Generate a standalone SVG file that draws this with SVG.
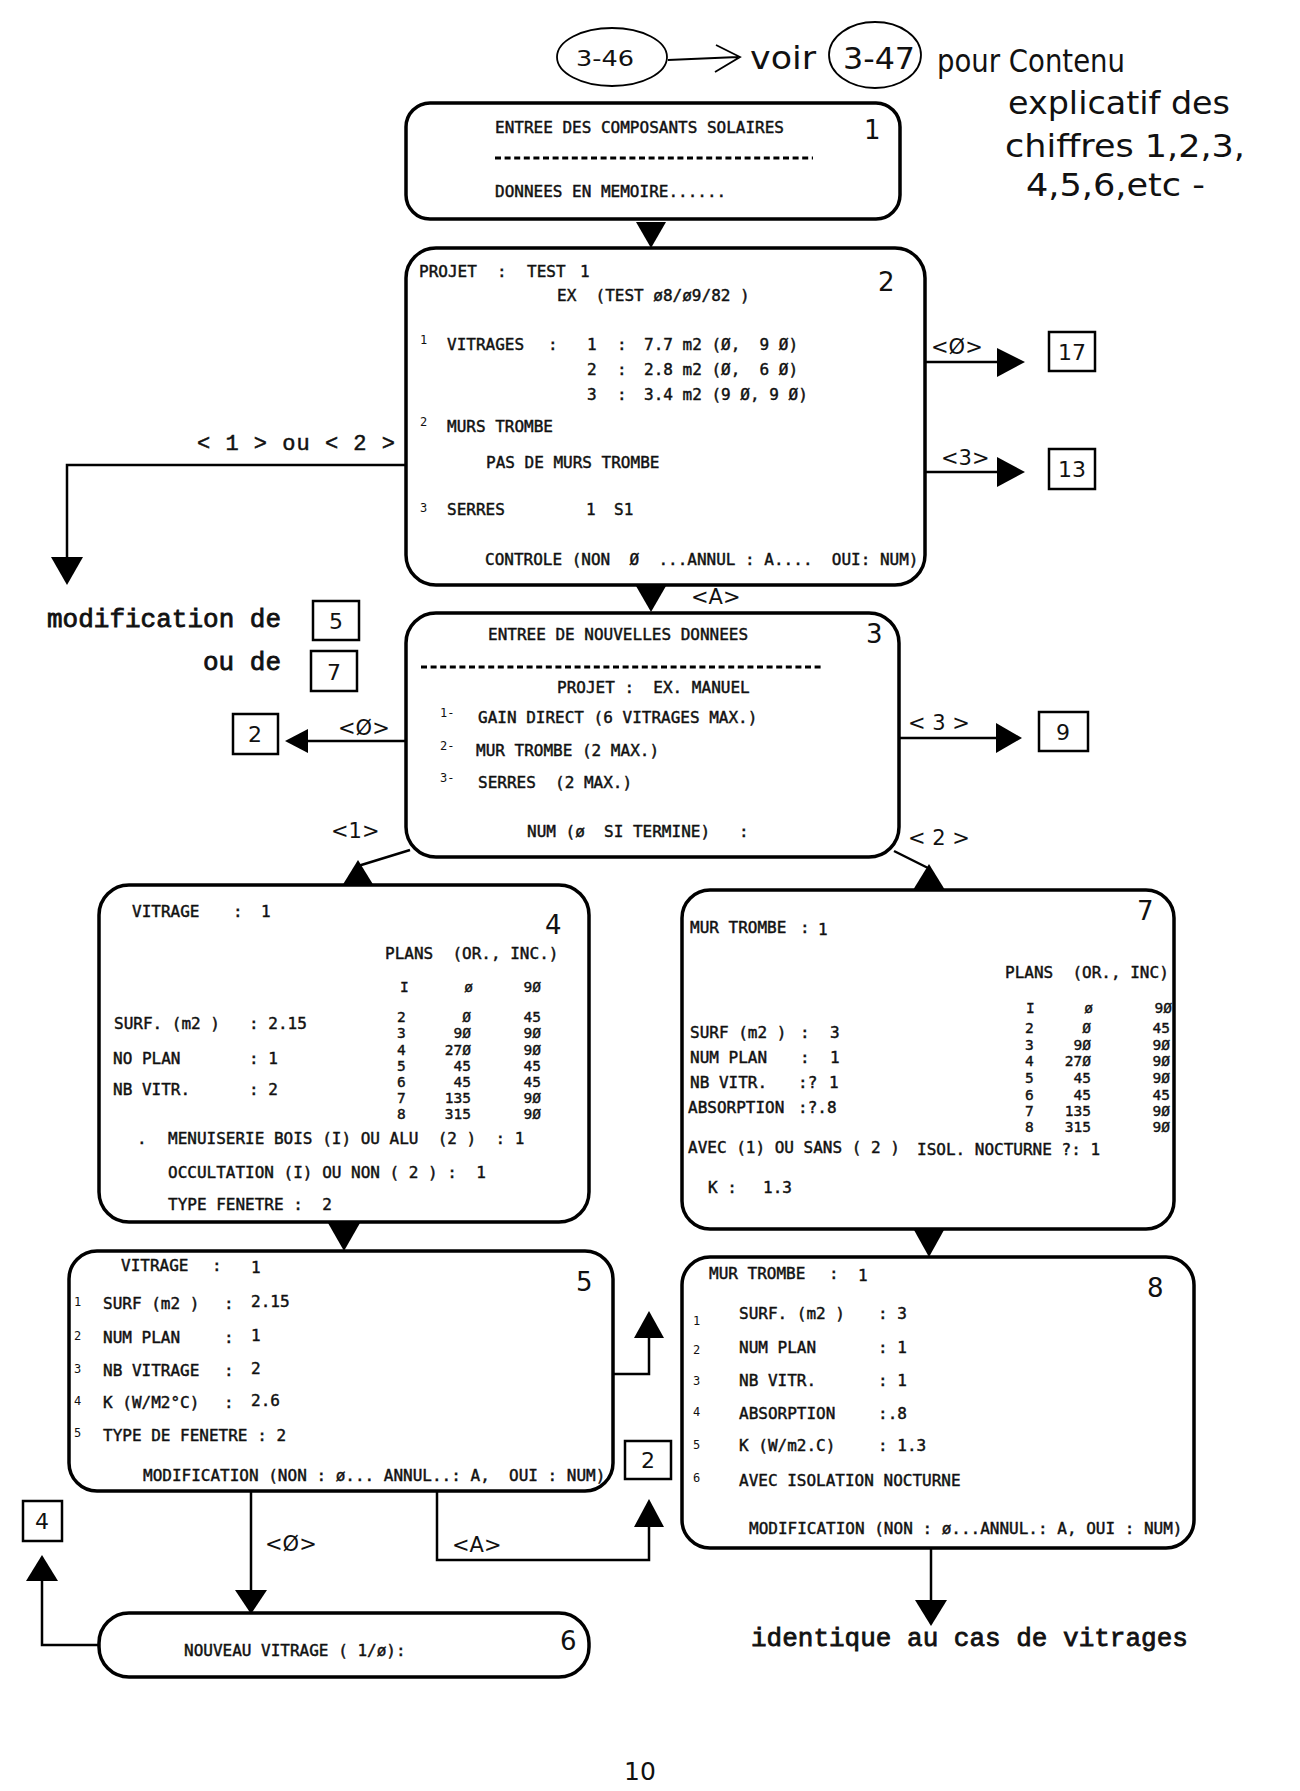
<svg xmlns="http://www.w3.org/2000/svg" width="1300" height="1791" viewBox="0 0 1300 1791">
<style>
.box{fill:#fff;stroke:#000;stroke-width:3.5}
.sbox{fill:#fff;stroke:#000;stroke-width:2.5}
.ln{fill:none;stroke:#000;stroke-width:2.5}
.hl{fill:none;stroke:#000;stroke-width:1.8}
.ah{fill:#000}
.dash{stroke:#000;stroke-width:3;stroke-dasharray:6 3.6}
.t{font-family:'DejaVu Sans Mono','Liberation Mono',monospace;font-size:16px;fill:#111;stroke:#111;stroke-width:0.45;white-space:pre}
.tb{font-family:'DejaVu Sans Mono','Liberation Mono',monospace;font-size:14.5px;fill:#111;stroke:#111;stroke-width:0.4;white-space:pre}
.sm{font-family:'DejaVu Sans Mono','Liberation Mono',monospace;font-size:12px;fill:#111}
.big{font-family:'DejaVu Sans','Liberation Sans',sans-serif;font-size:26px;fill:#111}
.lbl{font-family:'DejaVu Sans','Liberation Sans',sans-serif;font-size:21px;fill:#111;white-space:pre}
.num{font-family:'DejaVu Sans','Liberation Sans',sans-serif;font-size:22px;fill:#111;text-anchor:middle}
.cour{font-family:'Liberation Mono','Courier New',monospace;font-size:26px;fill:#111;stroke:#111;stroke-width:0.8;white-space:pre}
.hand{font-family:'DejaVu Sans','Liberation Sans',sans-serif;font-size:32px;fill:#111}
.e{text-anchor:end}
</style>

<!-- handwritten header -->
<g id="annotation">
  <ellipse cx="612" cy="57" rx="55" ry="29" class="hl"/>
  <text x="576" y="66" class="hand" style="font-size:22px" textLength="58" lengthAdjust="spacingAndGlyphs">3-46</text>
  <path d="M668,60 L738,57 M716,45 L740,57 L715,72" class="hl"/>
  <text x="750" y="69" class="hand" textLength="66" lengthAdjust="spacingAndGlyphs">voir</text>
  <ellipse cx="875" cy="55" rx="46" ry="33" class="hl"/>
  <text x="843" y="69" class="hand" style="font-size:30px" textLength="72" lengthAdjust="spacingAndGlyphs">3-47</text>
  <text x="937" y="72" class="hand" textLength="188" lengthAdjust="spacingAndGlyphs">pour Contenu</text>
  <text x="1008" y="114" class="hand" textLength="222" lengthAdjust="spacingAndGlyphs">explicatif des</text>
  <text x="1005" y="157" class="hand" textLength="240" lengthAdjust="spacingAndGlyphs">chiffres 1,2,3,</text>
  <text x="1026" y="196" class="hand" textLength="179" lengthAdjust="spacingAndGlyphs">4,5,6,etc -</text>
  <text x="624" y="1780" class="hand" style="font-size:25px">10</text>
</g>

<!-- connectors -->
<g id="connectors">
  <!-- 1 -> 2 -->
  <polygon class="ah" points="636,222 666,222 651,248"/>
  <!-- 2 -> 3 -->
  <polygon class="ah" points="636,586 666,586 651,612"/>
  <text x="691" y="604" class="lbl">&lt;A&gt;</text>
  <!-- 2 -> 17 -->
  <path class="ln" d="M925,362 H1000"/>
  <polygon class="ah" points="997,348 1025,362 997,377"/>
  <text x="931" y="354" class="lbl">&lt;Ø&gt;</text>
  <rect class="sbox" x="1049" y="332" width="46" height="39"/>
  <text x="1072" y="360" class="num">17</text>
  <!-- 2 -> 13 -->
  <path class="ln" d="M925,472 H1000"/>
  <polygon class="ah" points="997,457 1025,472 997,487"/>
  <text x="941" y="465" class="lbl">&lt;3&gt;</text>
  <rect class="sbox" x="1049" y="449" width="46" height="40"/>
  <text x="1072" y="477" class="num">13</text>
  <!-- 2 -> modification -->
  <path class="ln" d="M406,465 H67 V560"/>
  <polygon class="ah" points="51,557 83,557 67,585"/>
  <text x="197" y="450" class="cour" style="font-size:22px;stroke-width:0.5" textLength="198" lengthAdjust="spacing">&lt; 1 &gt; ou &lt; 2 &gt;</text>
  <text x="47" y="627" class="cour">modification de</text>
  <text x="203" y="670" class="cour">ou de</text>
  <rect class="sbox" x="313" y="601" width="46" height="39"/>
  <text x="336" y="629" class="num">5</text>
  <rect class="sbox" x="311" y="651" width="46" height="40"/>
  <text x="334" y="680" class="num">7</text>
  <!-- 3 -> 2 -->
  <path class="ln" d="M406,741 H305"/>
  <polygon class="ah" points="308,729 308,753 285,741"/>
  <text x="338" y="735" class="lbl">&lt;Ø&gt;</text>
  <rect class="sbox" x="233" y="714" width="45" height="40"/>
  <text x="255" y="742" class="num">2</text>
  <!-- 3 -> 9 -->
  <path class="ln" d="M899,738 H1000"/>
  <polygon class="ah" points="996,723 1022,738 996,753"/>
  <text x="908" y="730" class="lbl">&lt; 3 &gt;</text>
  <rect class="sbox" x="1039" y="712" width="49" height="39"/>
  <text x="1063" y="740" class="num">9</text>
  <!-- 3 -> 4 -->
  <path class="ln" d="M410,850 L358,866"/>
  <polygon class="ah" points="342,886 374,886 358,860"/>
  <text x="331" y="838" class="lbl">&lt;1&gt;</text>
  <!-- 3 -> 7 -->
  <path class="ln" d="M894,851 L928,868"/>
  <polygon class="ah" points="913,890 945,890 929,864"/>
  <text x="908" y="845" class="lbl">&lt; 2 &gt;</text>
  <!-- 4 -> 5 -->
  <polygon class="ah" points="328,1223 360,1223 344,1251"/>
  <!-- 7 -> 8 -->
  <polygon class="ah" points="914,1230 944,1230 929,1257"/>
  <!-- 5 right -> up -->
  <path class="ln" d="M613,1374 H649 V1337"/>
  <polygon class="ah" points="634,1338 664,1338 649,1311"/>
  <rect class="sbox" x="625" y="1441" width="46" height="38"/>
  <text x="648" y="1468" class="num">2</text>
  <!-- 5 -> 2 via <A> -->
  <path class="ln" d="M437,1491 V1560 H649 V1525"/>
  <polygon class="ah" points="634,1527 664,1527 649,1499"/>
  <text x="452" y="1552" class="lbl">&lt;A&gt;</text>
  <!-- 5 -> 6 -->
  <path class="ln" d="M251,1491 V1592"/>
  <polygon class="ah" points="235,1590 267,1590 251,1614"/>
  <text x="265" y="1551" class="lbl">&lt;Ø&gt;</text>
  <!-- 6 -> 4 -->
  <path class="ln" d="M99,1645 H42 V1578"/>
  <polygon class="ah" points="26,1581 58,1581 42,1555"/>
  <rect class="sbox" x="23" y="1501" width="39" height="40"/>
  <text x="42" y="1529" class="num">4</text>
  <!-- 8 -> identique -->
  <path class="ln" d="M931,1548 V1602"/>
  <polygon class="ah" points="915,1600 947,1600 931,1626"/>
  <text x="751" y="1646" class="cour">identique au cas de vitrages</text>
</g>

<!-- node 1 -->
<g id="node1">
  <rect class="box" x="406" y="103" width="494" height="116" rx="24"/>
  <text x="495" y="133" class="t">ENTREE DES COMPOSANTS SOLAIRES</text>
  <line class="dash" x1="495" y1="158" x2="813" y2="158"/>
  <text x="495" y="197" class="t">DONNEES EN MEMOIRE......</text>
  <text x="864" y="139" class="big">1</text>
</g>

<!-- node 2 -->
<g id="node2">
  <rect class="box" x="406" y="248" width="519" height="337" rx="30"/>
  <text x="419" y="277" class="t">PROJET</text>
  <text x="497" y="277" class="t">:</text>
  <text x="527" y="277" class="t">TEST</text>
  <text x="580" y="277" class="t">1</text>
  <text x="557" y="301" class="t">EX  (TEST ø8/ø9/82 )</text>
  <text x="878" y="291" class="big">2</text>
  <text x="420" y="344" class="sm">1</text>
  <text x="447" y="350" class="t">VITRAGES</text>
  <text x="548" y="350" class="t">:</text>
  <text x="587" y="350" class="t">1</text>
  <text x="617" y="350" class="t">:</text>
  <text x="644" y="350" class="t">7.7 m2 (Ø,  9 Ø)</text>
  <text x="587" y="375" class="t">2</text>
  <text x="617" y="375" class="t">:</text>
  <text x="644" y="375" class="t">2.8 m2 (Ø,  6 Ø)</text>
  <text x="587" y="400" class="t">3</text>
  <text x="617" y="400" class="t">:</text>
  <text x="644" y="400" class="t">3.4 m2 (9 Ø, 9 Ø)</text>
  <text x="420" y="426" class="sm">2</text>
  <text x="447" y="432" class="t">MURS TROMBE</text>
  <text x="486" y="468" class="t">PAS DE MURS TROMBE</text>
  <text x="420" y="512" class="sm">3</text>
  <text x="447" y="515" class="t">SERRES</text>
  <text x="586" y="515" class="t">1</text>
  <text x="614" y="515" class="t">S1</text>
  <text x="485" y="565" class="t">CONTROLE (NON  Ø  ...ANNUL : A....  OUI: NUM)</text>
</g>

<!-- node 3 -->
<g id="node3">
  <rect class="box" x="406" y="613" width="493" height="244" rx="30"/>
  <text x="488" y="640" class="t">ENTREE DE NOUVELLES DONNEES</text>
  <text x="866" y="643" class="big">3</text>
  <line class="dash" x1="421" y1="667" x2="823" y2="667"/>
  <text x="557" y="693" class="t">PROJET :  EX. MANUEL</text>
  <text x="440" y="717" class="sm">1-</text>
  <text x="478" y="723" class="t">GAIN DIRECT (6 VITRAGES MAX.)</text>
  <text x="440" y="750" class="sm">2-</text>
  <text x="476" y="756" class="t">MUR TROMBE (2 MAX.)</text>
  <text x="440" y="782" class="sm">3-</text>
  <text x="478" y="788" class="t">SERRES  (2 MAX.)</text>
  <text x="527" y="837" class="t">NUM (ø  SI TERMINE)   :</text>
</g>

<!-- node 4 -->
<g id="node4">
  <rect class="box" x="99" y="885" width="490" height="337" rx="30"/>
  <text x="132" y="917" class="t">VITRAGE</text>
  <text x="233" y="917" class="t">:</text>
  <text x="261" y="917" class="t">1</text>
  <text x="545" y="934" class="big">4</text>
  <text x="385" y="959" class="t">PLANS  (OR., INC.)</text>
  <text x="400" y="992" class="tb">I</text>
  <text x="473" y="992" class="tb e">ø</text>
  <text x="541" y="992" class="tb e">9Ø</text>
  <text x="397" y="1022" class="tb">2</text><text x="471" y="1022" class="tb e">Ø</text><text x="541" y="1022" class="tb e">45</text>
  <text x="397" y="1038" class="tb">3</text><text x="471" y="1038" class="tb e">9Ø</text><text x="541" y="1038" class="tb e">9Ø</text>
  <text x="397" y="1055" class="tb">4</text><text x="471" y="1055" class="tb e">27Ø</text><text x="541" y="1055" class="tb e">9Ø</text>
  <text x="397" y="1071" class="tb">5</text><text x="471" y="1071" class="tb e">45</text><text x="541" y="1071" class="tb e">45</text>
  <text x="397" y="1087" class="tb">6</text><text x="471" y="1087" class="tb e">45</text><text x="541" y="1087" class="tb e">45</text>
  <text x="397" y="1103" class="tb">7</text><text x="471" y="1103" class="tb e">135</text><text x="541" y="1103" class="tb e">9Ø</text>
  <text x="397" y="1119" class="tb">8</text><text x="471" y="1119" class="tb e">315</text><text x="541" y="1119" class="tb e">9Ø</text>
  <text x="114" y="1029" class="t">SURF. (m2 )</text>
  <text x="249" y="1029" class="t">: 2.15</text>
  <text x="113" y="1064" class="t">NO PLAN</text>
  <text x="249" y="1064" class="t">: 1</text>
  <text x="113" y="1095" class="t">NB VITR.</text>
  <text x="249" y="1095" class="t">: 2</text>
  <text x="137" y="1144" class="t">.</text>
  <text x="168" y="1144" class="t">MENUISERIE BOIS (I) OU ALU  (2 )  : 1</text>
  <text x="168" y="1178" class="t">OCCULTATION (I) OU NON ( 2 ) :  1</text>
  <text x="168" y="1210" class="t">TYPE FENETRE :  2</text>
</g>

<!-- node 7 -->
<g id="node7">
  <rect class="box" x="682" y="890" width="492" height="339" rx="28"/>
  <text x="690" y="933" class="t">MUR TROMBE</text>
  <text x="800" y="933" class="t">:</text>
  <text x="818" y="935" class="t">1</text>
  <text x="1137" y="920" class="big">7</text>
  <text x="1005" y="978" class="t">PLANS  (OR., INC)</text>
  <text x="1026" y="1013" class="tb">I</text>
  <text x="1093" y="1013" class="tb e">ø</text>
  <text x="1172" y="1013" class="tb e">9Ø</text>
  <text x="1025" y="1033" class="tb">2</text><text x="1091" y="1033" class="tb e">Ø</text><text x="1170" y="1033" class="tb e">45</text>
  <text x="1025" y="1050" class="tb">3</text><text x="1091" y="1050" class="tb e">9Ø</text><text x="1170" y="1050" class="tb e">9Ø</text>
  <text x="1025" y="1066" class="tb">4</text><text x="1091" y="1066" class="tb e">27Ø</text><text x="1170" y="1066" class="tb e">9Ø</text>
  <text x="1025" y="1083" class="tb">5</text><text x="1091" y="1083" class="tb e">45</text><text x="1170" y="1083" class="tb e">9Ø</text>
  <text x="1025" y="1100" class="tb">6</text><text x="1091" y="1100" class="tb e">45</text><text x="1170" y="1100" class="tb e">45</text>
  <text x="1025" y="1116" class="tb">7</text><text x="1091" y="1116" class="tb e">135</text><text x="1170" y="1116" class="tb e">9Ø</text>
  <text x="1025" y="1132" class="tb">8</text><text x="1091" y="1132" class="tb e">315</text><text x="1170" y="1132" class="tb e">9Ø</text>
  <text x="690" y="1038" class="t">SURF (m2 )</text>
  <text x="800" y="1038" class="t">:</text>
  <text x="830" y="1038" class="t">3</text>
  <text x="690" y="1063" class="t">NUM PLAN</text>
  <text x="800" y="1063" class="t">:</text>
  <text x="830" y="1063" class="t">1</text>
  <text x="690" y="1088" class="t">NB VITR.</text>
  <text x="798" y="1088" class="t">:?</text>
  <text x="829" y="1088" class="t">1</text>
  <text x="688" y="1113" class="t">ABSORPTION</text>
  <text x="798" y="1113" class="t">:?.8</text>
  <text x="688" y="1153" class="t">AVEC (1) OU SANS ( 2 )</text>
  <text x="917" y="1155" class="t">ISOL. NOCTURNE ?: 1</text>
  <text x="708" y="1193" class="t">K :</text>
  <text x="763" y="1193" class="t">1.3</text>
</g>

<!-- node 5 -->
<g id="node5">
  <rect class="box" x="69" y="1251" width="544" height="240" rx="28"/>
  <text x="121" y="1271" class="t">VITRAGE</text>
  <text x="212" y="1271" class="t">:</text>
  <text x="251" y="1273" class="t">1</text>
  <text x="576" y="1291" class="big">5</text>
  <text x="74" y="1306" class="sm">1</text>
  <text x="103" y="1309" class="t">SURF (m2 )</text>
  <text x="224" y="1309" class="t">:</text>
  <text x="251" y="1307" class="t">2.15</text>
  <text x="74" y="1340" class="sm">2</text>
  <text x="103" y="1343" class="t">NUM PLAN</text>
  <text x="224" y="1343" class="t">:</text>
  <text x="251" y="1341" class="t">1</text>
  <text x="74" y="1373" class="sm">3</text>
  <text x="103" y="1376" class="t">NB VITRAGE</text>
  <text x="224" y="1376" class="t">:</text>
  <text x="251" y="1374" class="t">2</text>
  <text x="74" y="1405" class="sm">4</text>
  <text x="103" y="1408" class="t">K (W/M2°C)</text>
  <text x="224" y="1408" class="t">:</text>
  <text x="251" y="1406" class="t">2.6</text>
  <text x="74" y="1437" class="sm">5</text>
  <text x="103" y="1441" class="t">TYPE DE FENETRE : 2</text>
  <text x="143" y="1481" class="t">MODIFICATION (NON : ø... ANNUL..: A,  OUI : NUM)</text>
</g>

<!-- node 8 -->
<g id="node8">
  <rect class="box" x="682" y="1257" width="512" height="291" rx="28"/>
  <text x="709" y="1279" class="t">MUR TROMBE</text>
  <text x="829" y="1279" class="t">:</text>
  <text x="858" y="1281" class="t">1</text>
  <text x="1147" y="1297" class="big">8</text>
  <text x="693" y="1325" class="sm">1</text>
  <text x="739" y="1319" class="t">SURF. (m2 )</text>
  <text x="878" y="1319" class="t">: 3</text>
  <text x="693" y="1354" class="sm">2</text>
  <text x="739" y="1353" class="t">NUM PLAN</text>
  <text x="878" y="1353" class="t">: 1</text>
  <text x="693" y="1385" class="sm">3</text>
  <text x="739" y="1386" class="t">NB VITR.</text>
  <text x="878" y="1386" class="t">: 1</text>
  <text x="693" y="1416" class="sm">4</text>
  <text x="739" y="1419" class="t">ABSORPTION</text>
  <text x="878" y="1419" class="t">:.8</text>
  <text x="693" y="1449" class="sm">5</text>
  <text x="739" y="1451" class="t">K (W/m2.C)</text>
  <text x="878" y="1451" class="t">: 1.3</text>
  <text x="693" y="1482" class="sm">6</text>
  <text x="739" y="1486" class="t">AVEC ISOLATION NOCTURNE</text>
  <text x="749" y="1534" class="t">MODIFICATION (NON : ø...ANNUL.: A, OUI : NUM)</text>
</g>

<!-- node 6 -->
<g id="node6">
  <rect class="box" x="99" y="1613" width="490" height="64" rx="30"/>
  <text x="184" y="1656" class="t">NOUVEAU VITRAGE ( 1/ø):</text>
  <text x="560" y="1650" class="big">6</text>
</g>
</svg>
